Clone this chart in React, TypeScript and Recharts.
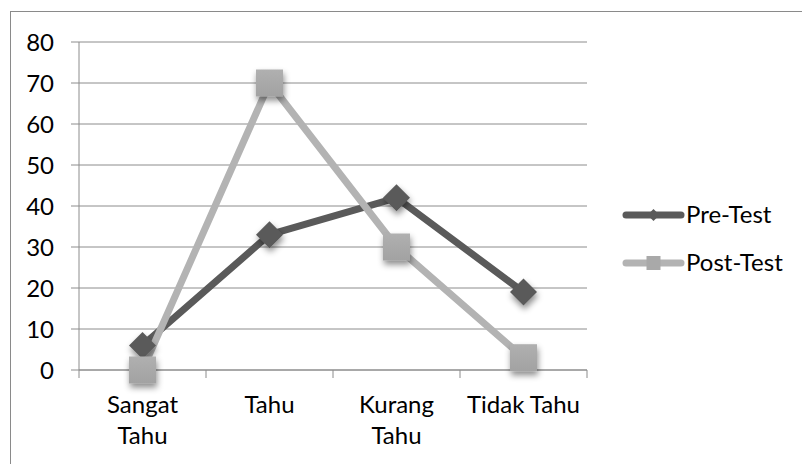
import React from 'react';
import { LineChart, Line, XAxis, YAxis, CartesianGrid } from 'recharts';

const categories = ['Sangat Tahu', 'Tahu', 'Kurang Tahu', 'Tidak Tahu'];
const categoryLines = [['Sangat', 'Tahu'], ['Tahu'], ['Kurang', 'Tahu'], ['Tidak Tahu']];
const preTest = [6, 33, 42, 19];
const postTest = [0, 70, 30, 3];
const yTicks = [0, 10, 20, 30, 40, 50, 60, 70, 80];
const seriesNames = ['Pre-Test', 'Post-Test'];

const data = categories.map((name, i) => ({ name, pre: preTest[i], post: postTest[i] }));

const W = 802;
const H = 464;
const PLOT_LEFT = 79;
const PLOT_RIGHT = 587;
const PLOT_TOP = 42;
const PLOT_BOTTOM = 370;
const Y_AXIS_W = 60;
const X_AXIS_H = 60;
const BAND = (PLOT_RIGHT - PLOT_LEFT) / categories.length;

const FONT = 'Lato, "Open Sans", sans-serif';
const FONT_SIZE = 24;
const AXIS_GRAY = '#8c8c8c';
const PRE_COLOR = '#5a5a5a';
const POST_COLOR = '#b3b3b3';
const POST_MARK = '#a9a9a9';

const Diamond = (props: any) => {
  const { cx, cy, index } = props;
  if (cx == null || cy == null) return null;
  const r = 13.5;
  return (
    <path
      key={`pre-${index}`}
      d={`M${cx},${cy - r} L${cx + r},${cy} L${cx},${cy + r} L${cx - r},${cy} Z`}
      fill={PRE_COLOR}
      filter="url(#markShadow)"
    />
  );
};

const Square = (props: any) => {
  const { cx, cy, index } = props;
  if (cx == null || cy == null) return null;
  const s = 27;
  return (
    <rect
      key={`post-${index}`}
      x={cx - s / 2}
      y={cy - s / 2}
      width={s}
      height={s}
      fill="url(#squareFill)"
      filter="url(#markShadow)"
    />
  );
};

// category labels sit between tick marks, so the marks go on the band edges
const CategoryTick = (props: any) => {
  const { x, index, payload } = props;
  const lines = categoryLines[index] ?? [String(payload.value)];
  return (
    <g>
      <line x1={x - BAND / 2} y1={PLOT_BOTTOM} x2={x - BAND / 2} y2={PLOT_BOTTOM + 8} stroke={AXIS_GRAY} />
      {index === categories.length - 1 && (
        <line x1={x + BAND / 2} y1={PLOT_BOTTOM} x2={x + BAND / 2} y2={PLOT_BOTTOM + 8} stroke={AXIS_GRAY} />
      )}
      <text x={x} y={PLOT_BOTTOM + 43} textAnchor="middle" fontFamily={FONT} fontSize={FONT_SIZE} fill="#000">
        {lines.map((ln, i) => (
          <tspan key={ln + i} x={x} dy={i === 0 ? 0 : 31}>
            {ln}
          </tspan>
        ))}
      </text>
    </g>
  );
};

// legend sits outside the chart so it doesn't eat into the plot margins
const LegendBox = () => (
  <svg width={180} height={90} style={{ position: 'absolute', left: 619, top: 196, overflow: 'visible' }}>
    <line x1={7} y1={19} x2={62} y2={19} stroke={PRE_COLOR} strokeWidth={7} strokeLinecap="round" />
    <path d="M34.5,13 L40.5,19 L34.5,25 L28.5,19 Z" fill={PRE_COLOR} />
    <text x={67} y={27} fontFamily={FONT} fontSize={FONT_SIZE} fill="#000">{seriesNames[0]}</text>
    <line x1={7} y1={67} x2={62} y2={67} stroke={POST_COLOR} strokeWidth={7} strokeLinecap="round" />
    <rect x={27.5} y={60} width={14} height={14} fill={POST_MARK} />
    <text x={67} y={75} fontFamily={FONT} fontSize={FONT_SIZE} fill="#000">{seriesNames[1]}</text>
  </svg>
);

export default function App() {
  return (
    <div style={{ position: 'absolute', left: 0, top: 0, width: W, height: H, overflow: 'hidden', background: '#fff' }}>
      <div
        style={{
          position: 'absolute',
          left: 10,
          top: 11,
          width: W,
          height: H,
          borderLeft: '1px solid #8a8a8a',
          borderTop: '1px solid #8a8a8a',
        }}
      />
      <div style={{ position: 'absolute', left: 0, top: 0 }}>
        <LineChart
          width={W}
          height={H}
          data={data}
          margin={{
            top: PLOT_TOP,
            right: W - PLOT_RIGHT,
            bottom: H - PLOT_BOTTOM - X_AXIS_H,
            left: PLOT_LEFT - Y_AXIS_W,
          }}
        >
          <defs>
            <filter id="markShadow" x="-50%" y="-50%" width="200%" height="200%">
              <feDropShadow dx="1" dy="4" stdDeviation="3" floodColor="#000" floodOpacity="0.45" />
            </filter>
            <linearGradient id="squareFill" x1="0" y1="0" x2="0" y2="1">
              <stop offset="0%" stopColor="#b0b0b0" />
              <stop offset="100%" stopColor="#a2a2a2" />
            </linearGradient>
          </defs>
          <CartesianGrid vertical={false} stroke={AXIS_GRAY} strokeWidth={1} />
          <XAxis
            dataKey="name"
            height={X_AXIS_H}
            padding={{ left: BAND / 2, right: BAND / 2 }}
            axisLine={{ stroke: AXIS_GRAY }}
            tickLine={false}
            tick={<CategoryTick />}
            interval={0}
          />
          <YAxis
            width={Y_AXIS_W}
            domain={[0, 80]}
            ticks={yTicks}
            interval={0}
            axisLine={{ stroke: AXIS_GRAY }}
            tickLine={{ stroke: AXIS_GRAY }}
            tickSize={8}
            tickMargin={17}
            tick={{ fontFamily: FONT, fontSize: FONT_SIZE, fill: '#000' }}
          />
          <Line
            type="linear"
            dataKey="pre"
            name={seriesNames[0]}
            stroke={PRE_COLOR}
            strokeWidth={7}
            strokeLinejoin="round"
            dot={Diamond}
            activeDot={false}
            isAnimationActive={false}
          />
          <Line
            type="linear"
            dataKey="post"
            name={seriesNames[1]}
            stroke={POST_COLOR}
            strokeWidth={7}
            strokeLinejoin="round"
            dot={Square}
            activeDot={false}
            isAnimationActive={false}
          />
        </LineChart>
      </div>
      <LegendBox />
    </div>
  );
}
